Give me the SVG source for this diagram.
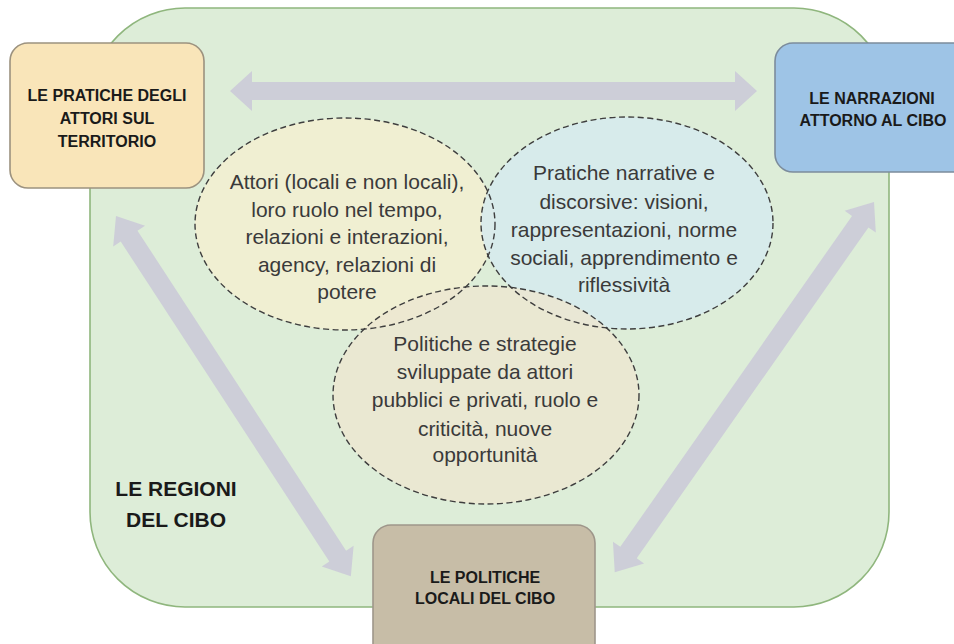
<svg xmlns="http://www.w3.org/2000/svg" width="954" height="644" viewBox="0 0 954 644">
<style>
.box-text{font-family:"Liberation Sans",Arial,sans-serif;font-weight:bold;font-size:16px;fill:#1a1a1a;text-anchor:middle}
.ell-text{font-family:"Liberation Sans",Arial,sans-serif;font-size:21px;fill:#3a3a3a;text-anchor:middle}
.region-text{font-family:"Liberation Sans",Arial,sans-serif;font-weight:bold;font-size:21px;fill:#1a1a1a;text-anchor:middle}
.ell{stroke:#3e3e3e;stroke-width:1.4;stroke-dasharray:6 3.5}
.arrow{fill:#cbcad8;opacity:0.9}
.box{stroke-width:1.6}
</style>
<rect width="954" height="644" fill="#ffffff"/>
<g id="regioni-del-cibo">
<rect x="90" y="8" width="799" height="599" rx="95" ry="95" fill="#ddedd8" stroke="#8fb67d" stroke-width="1.6"/>
<text class="region-text" x="176" y="496">LE REGIONI</text>
<text class="region-text" x="176" y="527">DEL CIBO</text>
</g>
<g id="connectors">
<polygon class="arrow" points="230,91 252,71 252,82 735,82 735,71 757,91 735,111 735,100 252,100 252,111"/>
<g transform="translate(116,216) rotate(56.9)">
<polygon class="arrow" points="0,0 24,-19 24,-10 406,-10 406,-19 430,0 406,19 406,10 24,10 24,19"/>
</g>
<g transform="translate(874,202) rotate(125)">
<polygon class="arrow" points="0,0 24,-19 24,-10 428,-10 428,-19 452,0 428,19 428,10 24,10 24,19"/>
</g>
</g>
<g id="ellipse-attori">
<ellipse cx="345" cy="224" rx="150" ry="106" fill="#f3efd1" fill-opacity="0.85"/>
</g>
<g id="ellipse-narrazioni">
<ellipse cx="627" cy="223" rx="146" ry="106" fill="#d6eaee" fill-opacity="0.85"/>
</g>
<g id="ellipse-politiche">
<ellipse cx="486" cy="395" rx="153" ry="109" fill="#ece6d1" fill-opacity="0.85"/>
</g>
<g id="ellipse-outlines" fill="none">
<ellipse class="ell" cx="345" cy="224" rx="150" ry="106"/>
<ellipse class="ell" cx="627" cy="223" rx="146" ry="106"/>
<ellipse class="ell" cx="486" cy="395" rx="153" ry="109"/>
</g>
<g id="text-attori">
<text class="ell-text" x="347" y="189">Attori (locali e non locali),</text>
<text class="ell-text" x="347" y="217">loro ruolo nel tempo,</text>
<text class="ell-text" x="347" y="244">relazioni e interazioni,</text>
<text class="ell-text" x="347" y="272">agency, relazioni di</text>
<text class="ell-text" x="347" y="299">potere</text>
</g>
<g id="text-narrazioni">
<text class="ell-text" x="624" y="180">Pratiche narrative e</text>
<text class="ell-text" x="624" y="209">discorsive: visioni,</text>
<text class="ell-text" x="624" y="237">rappresentazioni, norme</text>
<text class="ell-text" x="624" y="265">sociali, apprendimento e</text>
<text class="ell-text" x="624" y="292">riflessività</text>
</g>
<g id="text-politiche">
<text class="ell-text" x="485" y="351">Politiche e strategie</text>
<text class="ell-text" x="485" y="379">sviluppate da attori</text>
<text class="ell-text" x="485" y="407">pubblici e privati, ruolo e</text>
<text class="ell-text" x="485" y="436">criticità, nuove</text>
<text class="ell-text" x="485" y="462">opportunità</text>
</g>
<g id="pratiche-attori">
<rect class="box" x="10" y="43" width="194" height="145" rx="18" ry="18" fill="#f9e5b9" stroke="#9c927f"/>
<text class="box-text" x="107" y="101">LE PRATICHE DEGLI</text>
<text class="box-text" x="107" y="124">ATTORI SUL</text>
<text class="box-text" x="107" y="147">TERRITORIO</text>
</g>
<g id="narrazioni-cibo">
<rect class="box" x="775" y="43" width="200" height="129" rx="18" ry="18" fill="#9ec4e6" stroke="#7c8c9c"/>
<text class="box-text" x="872" y="104">LE NARRAZIONI</text>
<text class="box-text" x="873" y="126">ATTORNO AL CIBO</text>
</g>
<g id="politiche-locali">
<rect class="box" x="373" y="525" width="222" height="140" rx="18" ry="18" fill="#c7bda7" stroke="#9e968a"/>
<text class="box-text" x="485" y="583">LE POLITICHE</text>
<text class="box-text" x="485" y="604">LOCALI DEL CIBO</text>
</g>
</svg>
